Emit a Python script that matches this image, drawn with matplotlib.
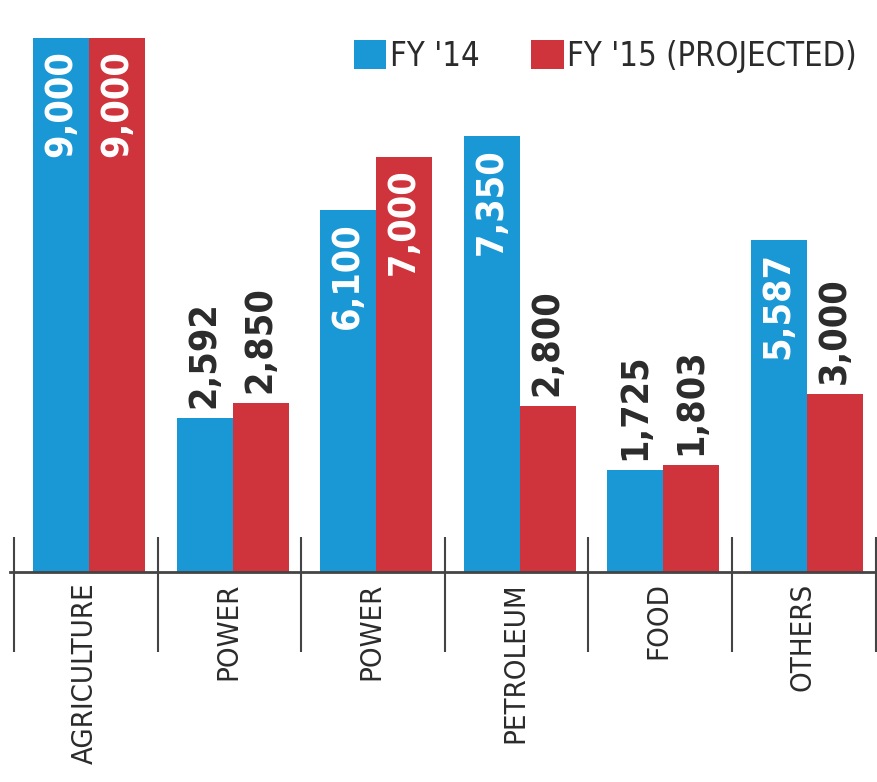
import numpy as np
import matplotlib
matplotlib.use('Agg')
from matplotlib import pyplot as plt
import matplotlib.transforms as mtransforms

categories = ['AGRICULTURE', 'POWER', 'POWER', 'PETROLEUM', 'FOOD', 'OTHERS']
fy14 = [9000, 2592, 6100, 7350, 1725, 5587]
fy15 = [9000, 2850, 7000, 2800, 1803, 3000]
series_names = ["FY '14", "FY '15 (PROJECTED)"]

BLUE = '#1a97d5'
RED = '#cf333b'
DARK = '#2b2b2b'
FONT = 'DejaVu Sans'

fig = plt.figure(figsize=(8.77, 7.82), dpi=100)
ax = fig.add_axes([0, 210 / 782, 1, 572 / 782])

x = np.arange(len(categories))
w = 0.39
b1 = ax.bar(x - w / 2, fy14, w, color=BLUE, label=series_names[0])
b2 = ax.bar(x + w / 2, fy15, w, color=RED, label=series_names[1])

ax.set_xlim(-0.62, 5.49)
ax.set_ylim(0, 9640)
ax.axis('off')

# value labels, inside tall bars, above short ones
for bars, vals in [(b1, fy14), (b2, fy15)]:
    for r, v in zip(bars, vals):
        cx = r.get_x() + r.get_width() / 2
        txt = f'{v:,}'
        if v > 4000:
            ax.text(cx, v, txt, rotation=90, ha='center', va='top', color='white',
                    fontsize=27, fontweight='bold', family=FONT, fontstretch='condensed',
                    transform=ax.transData + mtransforms.ScaledTranslation(0, -0.12, fig.dpi_scale_trans))
        else:
            ax.text(cx, v, txt, rotation=90, ha='center', va='bottom', color=DARK,
                    fontsize=27, fontweight='bold', family=FONT, fontstretch='condensed',
                    transform=ax.transData + mtransforms.ScaledTranslation(0, 0.1, fig.dpi_scale_trans))

# baseline and separators
trans = mtransforms.blended_transform_factory(ax.transData, ax.transAxes)
ax.plot([-0.55, 5.49], [0, 0], color='#444444', lw=2, transform=trans, clip_on=False)
ax.vlines(np.arange(len(categories) + 1) - 0.52, -0.14, 0.061, color='#444444', lw=1.5,
          transform=trans, clip_on=False)

for i, c in enumerate(categories):
    ax.text(i - 0.03, -0.018, c, rotation=90, ha='center', va='top', color=DARK,
            fontsize=21, family=FONT, fontstretch='condensed', transform=trans)

# legend
leg = ax.legend(loc='upper right', bbox_to_anchor=(857 / 877, 1 - 40 / 572), ncol=2, frameon=False,
                handlelength=1.0, handleheight=1.0, handletextpad=0.1,
                columnspacing=1.6, borderaxespad=0, borderpad=0,
                prop={'family': FONT, 'size': 23.5, 'stretch': 'condensed'})
for t in leg.get_texts():
    t.set_color(DARK)

fig.savefig('out.png', dpi=100, facecolor='white')
